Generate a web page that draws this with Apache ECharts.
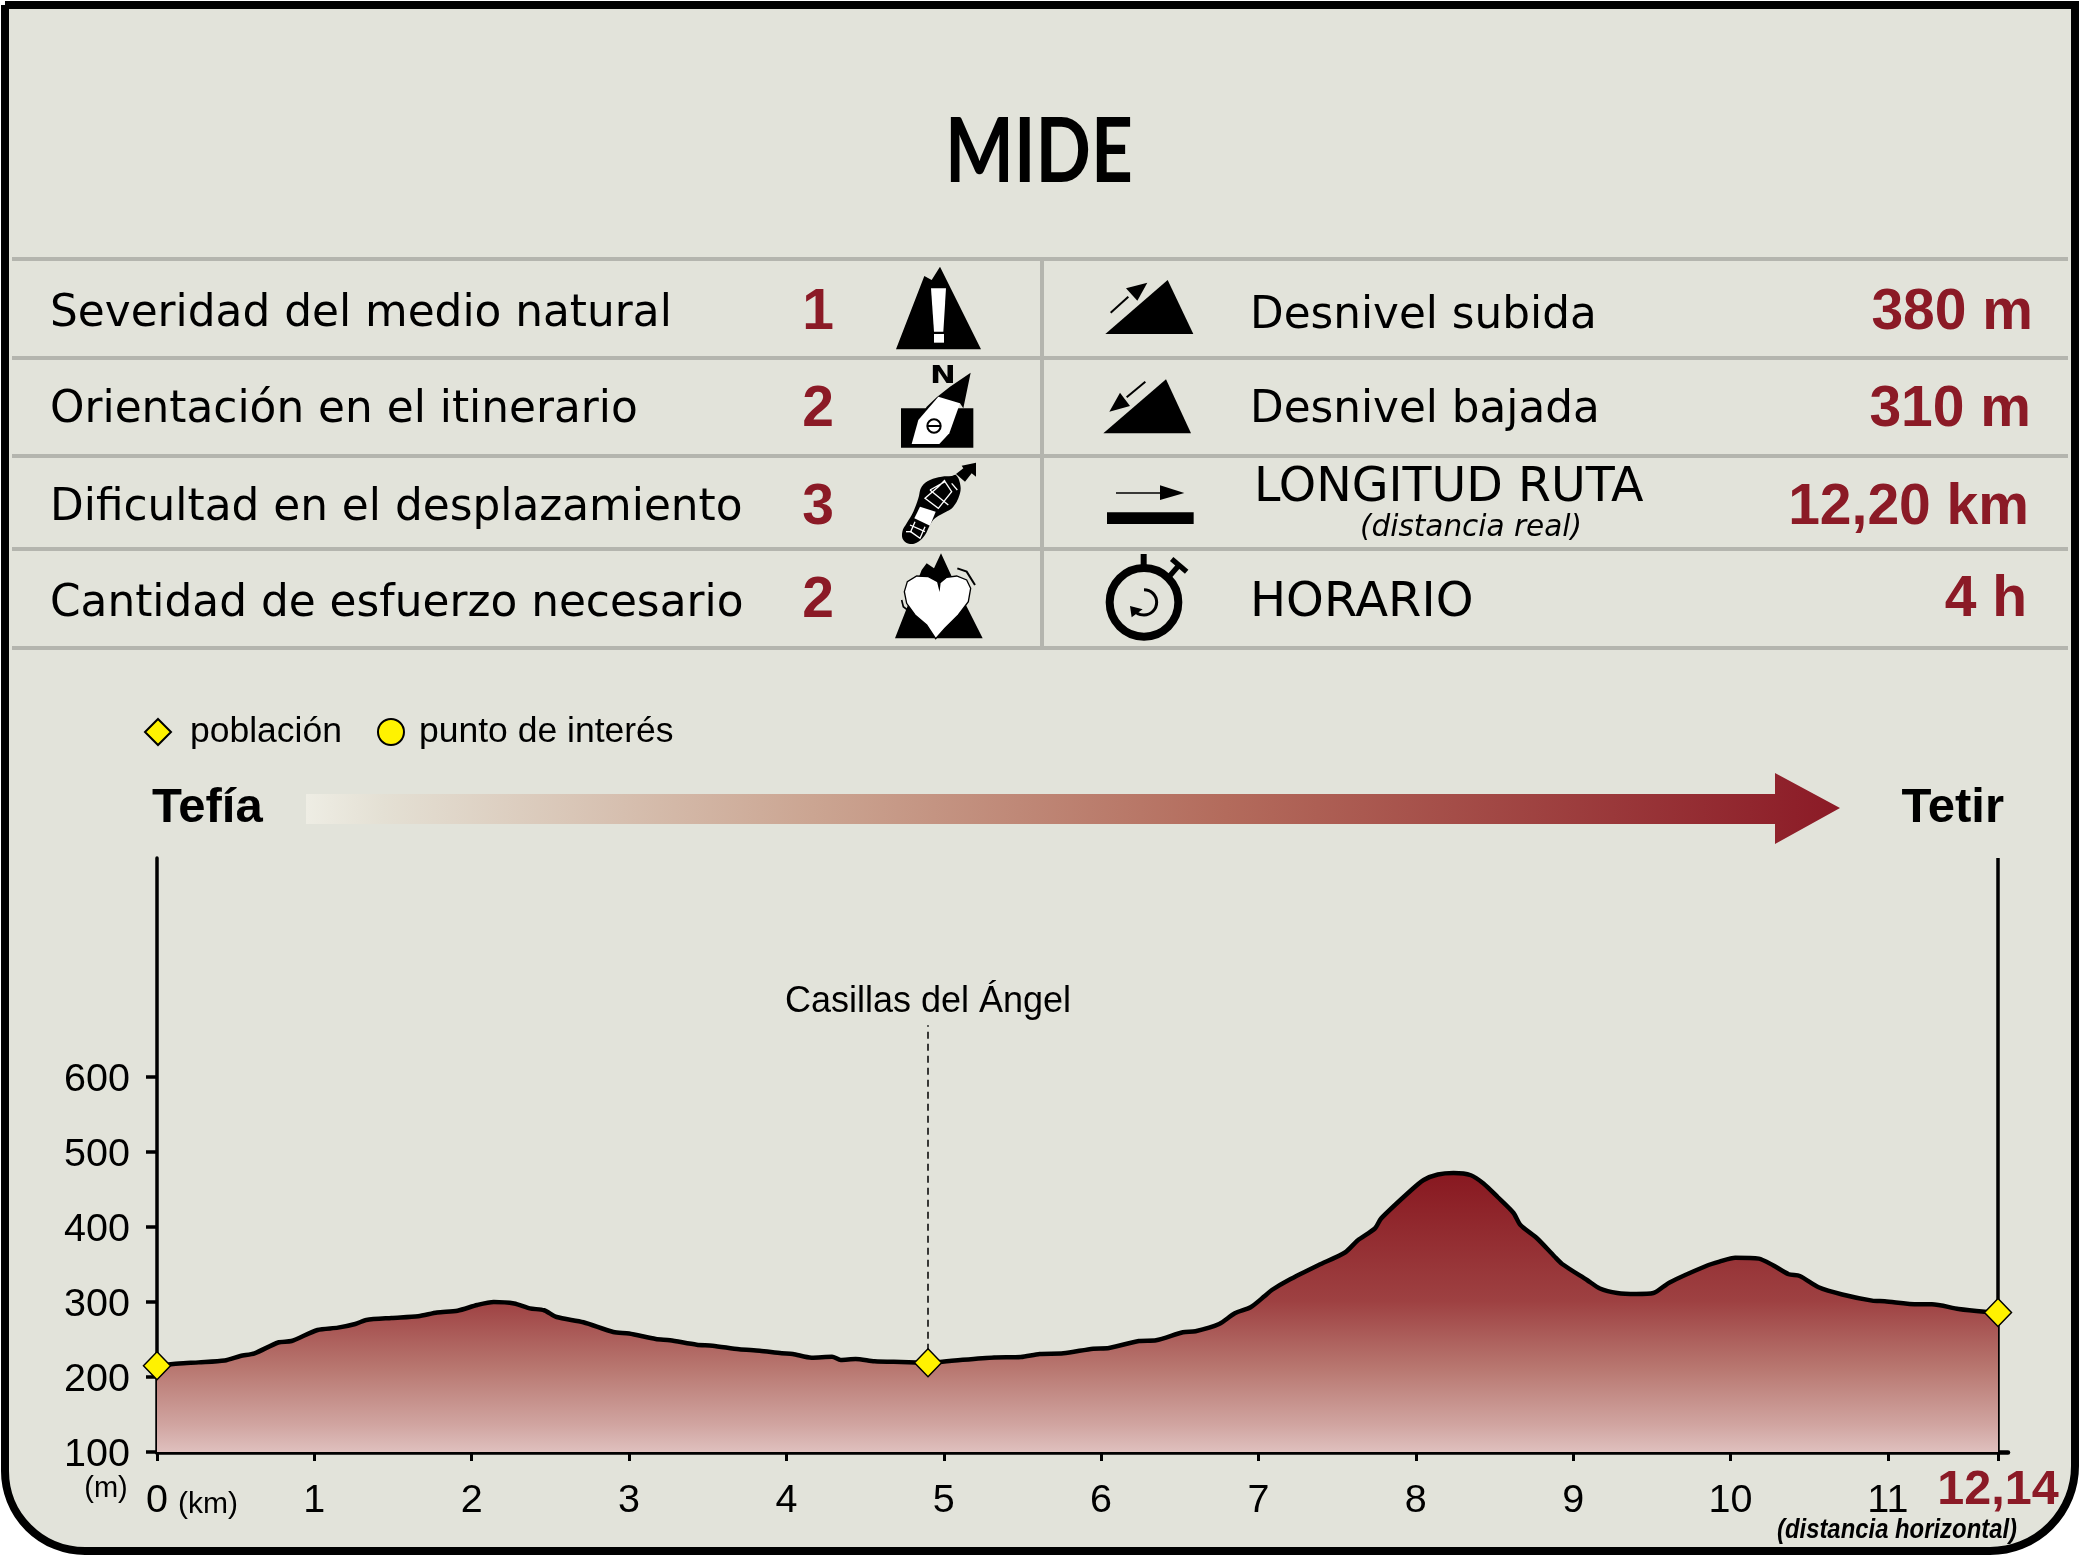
<!DOCTYPE html>
<html><head><meta charset="utf-8">
<style>html,body{margin:0;padding:0;background:#fff}#c{width:2080px;height:1556px}</style>
<script src="https://cdn.jsdelivr.net/npm/echarts@6/dist/echarts.min.js"></script>
</head><body><div id="c"></div>
<script>
// ---- data ----
const kmValues = [0,.14,.265,.43,.53,.62,.77,.855,1.02,1.15,1.26,1.33,1.49,1.66,1.78,1.91,2.035,2.14,2.27,2.37,2.46,2.54,2.71,2.9,3.0,3.17,3.26,3.43,3.53,3.7,3.83,3.97,4.04,4.16,4.29,4.345,4.44,4.56,4.73,4.9,5.07,5.32,5.49,5.61,5.76,5.95,6.05,6.24,6.35,6.52,6.6,6.75,6.85,6.95,7.04,7.085,7.19,7.38,7.55,7.63,7.74,7.78,7.97,8.05,8.14,8.24,8.35,8.43,8.52,8.62,8.665,8.77,8.88,8.93,9.09,9.17,9.28,9.4,9.51,9.61,9.845,9.93,10.03,10.18,10.27,10.37,10.44,10.56,10.71,10.9,10.98,11.19,11.28,11.45,11.615,11.7];
const elevationValues = [215,218,219.5,222,228,231.6,246,248,262.7,265.8,270.7,276,278.7,281,286,288.4,296,300,298,291.5,289,280,273,260,258,250.7,249,243,241.8,237,235,231.6,230.7,225.8,227,222.7,224,221,220,219,222,226,226.7,230.7,231.6,237.8,238.7,248,249,259.6,261,270.7,285,293,308,316,329,349,366,382,398,411.5,449,462.7,470,472,469,458,440,419,402.7,385,361,350.7,329,318,312,310.7,312,325.8,348,353.8,359,357.8,349,337,334.7,319.6,310,301.8,301,297,297,290.7,287,286];
const townKm = [0, 4.9, 11.7];
const townElevation = [215, 219, 286];
const poiName = 'Casillas del Ángel';
const poiKm = 4.9;
const yTicks = [100,200,300,400,500,600];
const xLabelTicks = [0,1,2,3,4,5,6,7,8,9,10,11];
const routeEndTick = 11.7;
const leftRows = ['Severidad del medio natural','Orientación en el itinerario','Dificultad en el desplazamiento','Cantidad de esfuerzo necesario'];
const leftScores = ['1','2','3','2'];
const rightRows = ['Desnivel subida','Desnivel bajada','LONGITUD RUTA','HORARIO'];
const rightValues = ['380 m','310 m','12,20 km','4 h'];

// ---- style ----
const BG='#E2E3DA', RED='#8B1A26', GREY='#B4B5AE', YEL='#FFF200';
const ARIAL='"Liberation Sans"', DEJA='"DejaVu Sans"';
function T(x,base,text,size,o={}){
  return {type:'text',x:x,y:base-.27*size,scaleX:o.sx||1,z:5,
    style:{text:text,fontSize:size,fontFamily:o.f||DEJA,fontWeight:o.w||'normal',fontStyle:o.i?'italic':'normal',
      fill:o.c||'#000',textAlign:o.a||'left',textVerticalAlign:'middle'}};
}
const poly=(p,fill,extra={})=>({type:'polygon',shape:{points:p,smooth:extra.smooth||0},style:{fill:fill,stroke:extra.stroke,lineWidth:extra.lw}});
const rect=(x,y,w,h,fill)=>({type:'rect',shape:{x,y,width:w,height:h},style:{fill}});
const pl=(p,c,lw)=>({type:'polyline',shape:{points:p},style:{stroke:c,lineWidth:lw,fill:null}});

// icons traced in a 3x space
const iconChildren=[
  // warning
  poly([[78,268],[163,48],[185,60],[210,20],[333,268]],'#000'),
  poly([[183,85],[228,85],[220,215],[192,215]],'#fff'), rect(192,222,30,26,'#fff'),
  // compass
  rect(93,445,217,118,'#000'),
  poly([[302,338],[240,380],[200,412],[170,440],[145,480],[270,430],[280,445]],'#000'),
  poly([[205,410],[270,430],[238,520],[208,552],[125,552],[145,480]],'#fff'),
  {type:'circle',shape:{cx:192,cy:498,r:20},style:{fill:null,stroke:'#000',lineWidth:6}},
  rect(172,495,40,6,'#000'),
  {type:'text',x:219,y:349,scaleX:1.25,style:{text:'N',fontSize:74,fontFamily:DEJA,fontWeight:'bold',fill:'#000',textAlign:'center',textVerticalAlign:'middle'}},
  // shoe
  poly([[258,645],[270,670],[270,700],[250,740],[220,760],[195,775],[180,795],[165,825],[145,845],[120,852],[100,840],[97,815],[110,790],[130,755],[145,715],[155,680],[180,660],[215,650],[245,648]],'#000',{smooth:.4}),
  poly([[258,642],[280,625],[275,617],[318,608],[318,650],[305,640],[285,665]],'#000'),
  poly([[150,740],[197,755],[180,797],[133,775]],'#fff'),
  pl([[180,690],[225,665],[245,695],[205,745],[165,715],[205,680],[225,660]],'#fff',4),
  pl([[180,690],[235,735]],'#fff',4), pl([[245,670],[262,690]],'#fff',4),
  pl([[135,785],[122,815],[150,835],[165,800]],'#fff',4), pl([[120,795],[165,815]],'#fff',4), pl([[108,815],[125,815]],'#fff',4),
  // heart
  poly([[75,1135],[155,930],[170,910],[192,925],[213,880],[250,960],[338,1135]],'#000'),
  poly([[208,985],[203,965],[175,950],[140,948],[112,965],[103,995],[110,1030],[135,1065],[170,1095],[197,1136],[225,1105],[265,1065],[295,1025],[302,985],[290,960],[260,948],[230,952],[210,968]],'#fff',{stroke:'#000',lw:4}),
  pl([[262,925],[290,935],[315,975]],'#000',6), pl([[95,1020],[100,1040],[115,1052]],'#000',5),
  // up
  poly([[706,222],[893,60],[970,222]],'#000'),
  pl([[722,158],[775,110]],'#000',6), poly([[832,68],[768,85],[802,122]],'#000'),
  // down
  poly([[700,520],[888,358],[963,520]],'#000'),
  pl([[826,365],[770,412]],'#000',6), poly([[718,455],[750,398],[780,438]],'#000'),
  // length
  pl([[738,699],[880,699]],'#000',5), poly([[870,676],[943,699],[870,720]],'#000'), rect(711,757,260,35,'#000'),
  // stopwatch
  {type:'circle',shape:{cx:822,cy:1027,r:103},style:{fill:null,stroke:'#000',lineWidth:24}},
  rect(812,882,18,35,'#000'), pl([[893,955],[925,918]],'#000',16), pl([[905,897],[950,935]],'#000',16),
  {type:'arc',shape:{cx:822,cy:1027,r:38,startAngle:-Math.PI/2,endAngle:Math.PI*.85,clockwise:true},style:{fill:null,stroke:'#000',lineWidth:9}},
  poly([[780,1038],[818,1048],[785,1072]],'#000')
];

const textEls=[];
leftRows.forEach((s,i)=>textEls.push(T(50,[326,422,520,616][i],s,43.8)));
leftScores.forEach((s,i)=>textEls.push(T(818,[329,426,524,617][i],s,57,{f:ARIAL,w:'bold',c:RED,a:'center'})));
[[1250,328,43.7],[1250,422,43.7],[1254,501,47.5],[1250,616,48]].forEach((r,i)=>textEls.push(T(r[0],r[1],rightRows[i],r[2])));
textEls.push(T(1471,536,'(distancia real)',29.5,{i:1,a:'center'}));
[[2033,329],[2031,426],[2029,524],[2027,616]].forEach((r,i)=>textEls.push(T(r[0],r[1],rightValues[i],57,{f:ARIAL,w:'bold',c:RED,a:'right'})));
textEls.push(T(1039,177,'MIDE',90,{f:'Lato',w:'bold',a:'center',sx:.81}));
textEls.push(T(152,822,'Tefía',49,{f:ARIAL,w:'bold'}));
textEls.push(T(2004,822,'Tetir',49,{f:ARIAL,w:'bold',a:'right'}));
textEls.push(T(106,1497,'(m)',29,{f:ARIAL,a:'center'}));
textEls.push(T(208,1513,'(km)',30,{f:ARIAL,a:'center'}));
textEls.push(T(1998,1504,'12,14',48.5,{f:ARIAL,w:'bold',c:RED,a:'center'}));
textEls.push(T(1897,1538,'(distancia horizontal)',27,{f:ARIAL,w:'bold',i:1,a:'center',sx:.884}));

const lineYs=[259,358,456,549,648];
const tableEls=lineYs.map(y=>({type:'rect',shape:{x:12,y:y-2,width:2056,height:4},style:{fill:GREY},z:1}));
tableEls.push({type:'rect',shape:{x:1040,y:259,width:4,height:389},style:{fill:GREY},z:1});

const chart=echarts.init(document.getElementById('c'),null,{renderer:'canvas',devicePixelRatio:1});
const gridL=157,gridT=858,gridW=1851,gridH=594;
chart.setOption({
  animation:false,
  backgroundColor:'#fff',
  textStyle:{fontFamily:ARIAL},
  legend:{left:139,top:709,itemWidth:26,itemHeight:26,itemGap:35,selectedMode:false,
    data:[{name:'población',icon:'diamond'},{name:'punto de interés',icon:'circle',textStyle:{padding:[0,0,0,10]}}],
    textStyle:{fontFamily:ARIAL,fontSize:35.5,color:'#000',padding:[0,0,0,14]}},
  grid:{left:gridL,top:gridT,width:gridW,height:gridH},
  xAxis:{type:'value',min:0,max:gridW/157.35,
    axisLine:{show:true,onZero:false,lineStyle:{color:'#000',width:4.5}},
    axisTick:{show:true,length:9,lineStyle:{color:'#000',width:3},customValues:xLabelTicks.concat([routeEndTick])},
    axisLabel:{show:true,customValues:xLabelTicks,fontSize:39.5,color:'#000',fontFamily:ARIAL,margin:29,formatter:v=>String(v)},
    splitLine:{show:false}},
  yAxis:{type:'value',min:100,max:100+gridH/.75,
    axisLine:{show:true,onZero:false,lineStyle:{color:'#000',width:3.5}},
    axisTick:{show:true,length:11,lineStyle:{color:'#000',width:3.5},customValues:yTicks},
    axisLabel:{show:true,customValues:yTicks,margin:27,formatter:v=>'{a|'+v+'}',
      rich:{a:{fontSize:39.5,color:'#000',fontFamily:ARIAL,padding:[6,0,0,0]}}},
    splitLine:{show:false}},
  graphic:{elements:[
    {type:'rect',z:-10,shape:{x:5,y:5,width:2070,height:1546,r:[0,0,85,80]},style:{fill:BG,stroke:'#000',lineWidth:8}},
    ...tableEls,
    {type:'polygon',z:1,shape:{points:[[306,794],[1775,794],[1775,773],[1840,808],[1775,844],[1775,824],[306,824]]},
     style:{fill:new echarts.graphic.LinearGradient(0,0,1,0,[{offset:0,color:'#EEEDE4'},{offset:.05,color:'#E4E0D4'},{offset:.33,color:'#CBA592'},{offset:.6,color:'#B36B5C'},{offset:1,color:RED}])}},
    {type:'group',x:870,y:260,scaleX:1/3,scaleY:1/3,z:3,children:iconChildren},
    ...textEls
  ]},
  series:[
    {name:'perfil',type:'line',data:kmValues.map((k,i)=>[k,elevationValues[i]]),showSymbol:false,smooth:.25,z:3,
     lineStyle:{color:'#000',width:4.5},
     areaStyle:{origin:'start',opacity:1,color:new echarts.graphic.LinearGradient(0,1173,0,1452,[{offset:0,color:'#881820'},{offset:.46,color:'#9E4142'},{offset:.7,color:'#B87770'},{offset:.9,color:'#D0A4A0'},{offset:1,color:'#DFC0BE'}],true)},
     markLine:{silent:true,symbol:'none',z:2,animation:false,
       data:[
        [{coord:[poiKm,townElevation[1]],lineStyle:{color:'#000',width:1.5,type:[7,5]}},
         {coord:[poiKm,669],label:{show:true,position:'end',formatter:poiName,fontSize:36,fontFamily:ARIAL,color:'#000',distance:5}}],
        [{coord:[routeEndTick,100],lineStyle:{color:'#000',width:3.5,type:'solid'},label:{show:false}},
         {coord:[routeEndTick,100+gridH/.75],label:{show:false}}]
       ]}},
    {name:'población',type:'scatter',symbol:'diamond',symbolSize:[27,28],z:6,data:townKm.map((k,i)=>[k,townElevation[i]]),
     itemStyle:{color:YEL,opacity:1,borderColor:'#000',borderWidth:1.5}},
    {name:'punto de interés',type:'scatter',symbol:'circle',symbolSize:23,data:[],
     itemStyle:{color:YEL,opacity:1,borderColor:'#000',borderWidth:1.5}}
  ]
});
</script></body></html>
